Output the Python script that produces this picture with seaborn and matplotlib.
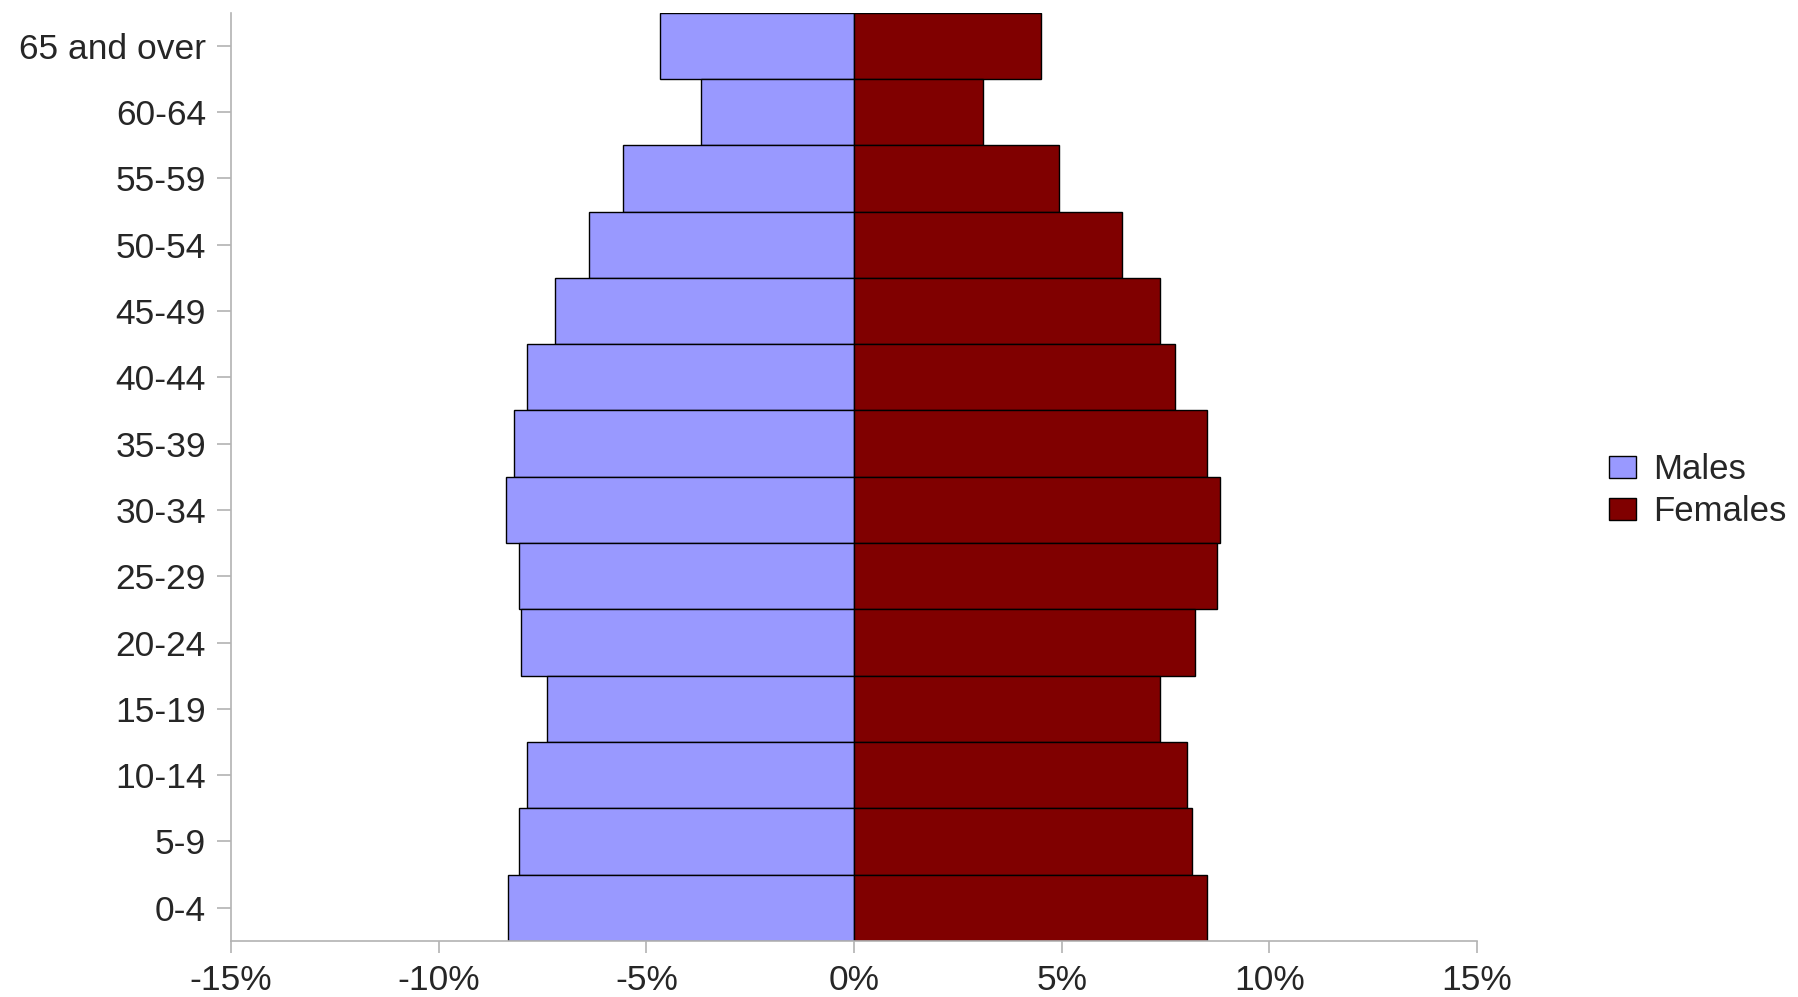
import seaborn as sns
import matplotlib.pyplot as plt
import pandas as pd
from matplotlib.ticker import FuncFormatter

ages = ["65 and over", "60-64", "55-59", "50-54", "45-49", "40-44", "35-39",
        "30-34", "25-29", "20-24", "15-19", "10-14", "5-9", "0-4"]
males = [4.67, 3.69, 5.57, 6.38, 7.21, 7.88, 8.19, 8.37, 8.07, 8.01, 7.40, 7.88, 8.07, 8.32]
females = [4.50, 3.10, 4.94, 6.45, 7.36, 7.73, 8.50, 8.80, 8.74, 8.20, 7.36, 8.02, 8.14, 8.50]
sexes = ["Males", "Females"]
colors = {"Males": "#9999ff", "Females": "#800000"}
xticks = [-15, -10, -5, 0, 5, 10, 15]

df = pd.DataFrame({
    "age": ages * 2,
    "sex": ["Males"] * len(ages) + ["Females"] * len(ages),
    "value": [-m for m in males] + females,
})

sns.set_style("white")
plt.rcParams['font.family'] = ['Liberation Sans', 'DejaVu Sans']

fig = plt.figure(figsize=(17.98, 9.97), dpi=100)
ax = fig.add_axes([0.1285, 0.0562, 0.6930, 0.9312])

sns.barplot(data=df, y="age", x="value", hue="sex", order=ages, hue_order=sexes,
            palette=colors, dodge=False, width=1.0, orient="h",
            edgecolor="black", linewidth=1.0, saturation=1, ax=ax)

ax.set_xlim(-15, 15)
ax.set_ylim(len(ages) - 0.5, -0.5)
ax.set_xticks(xticks)
ax.xaxis.set_major_formatter(FuncFormatter(lambda v, p: f"{int(v)}%"))
ax.set_xlabel("")
ax.set_ylabel("")

for s in ["top", "right"]:
    ax.spines[s].set_visible(False)
for s in ["left", "bottom"]:
    ax.spines[s].set_color("#b3b3b3")
    ax.spines[s].set_linewidth(1.2)

ax.tick_params(axis="x", which="major", direction="out", length=8.6, width=1.2,
               color="#b3b3b3", labelsize=25.5, pad=8, bottom=True)
ax.tick_params(axis="y", which="major", direction="out", length=10, width=1.2,
               color="#b3b3b3", labelsize=25.5, pad=8, left=True)

handles, labels = ax.get_legend_handles_labels()
ax.legend(handles, labels, loc="center left", bbox_to_anchor=(0.8855, 0.508),
          bbox_transform=fig.transFigure, frameon=False, fontsize=25,
          handlelength=0.75, handleheight=0.6, handletextpad=0.5,
          labelspacing=0.25, borderpad=0)

plt.savefig("out.png", dpi=100)
